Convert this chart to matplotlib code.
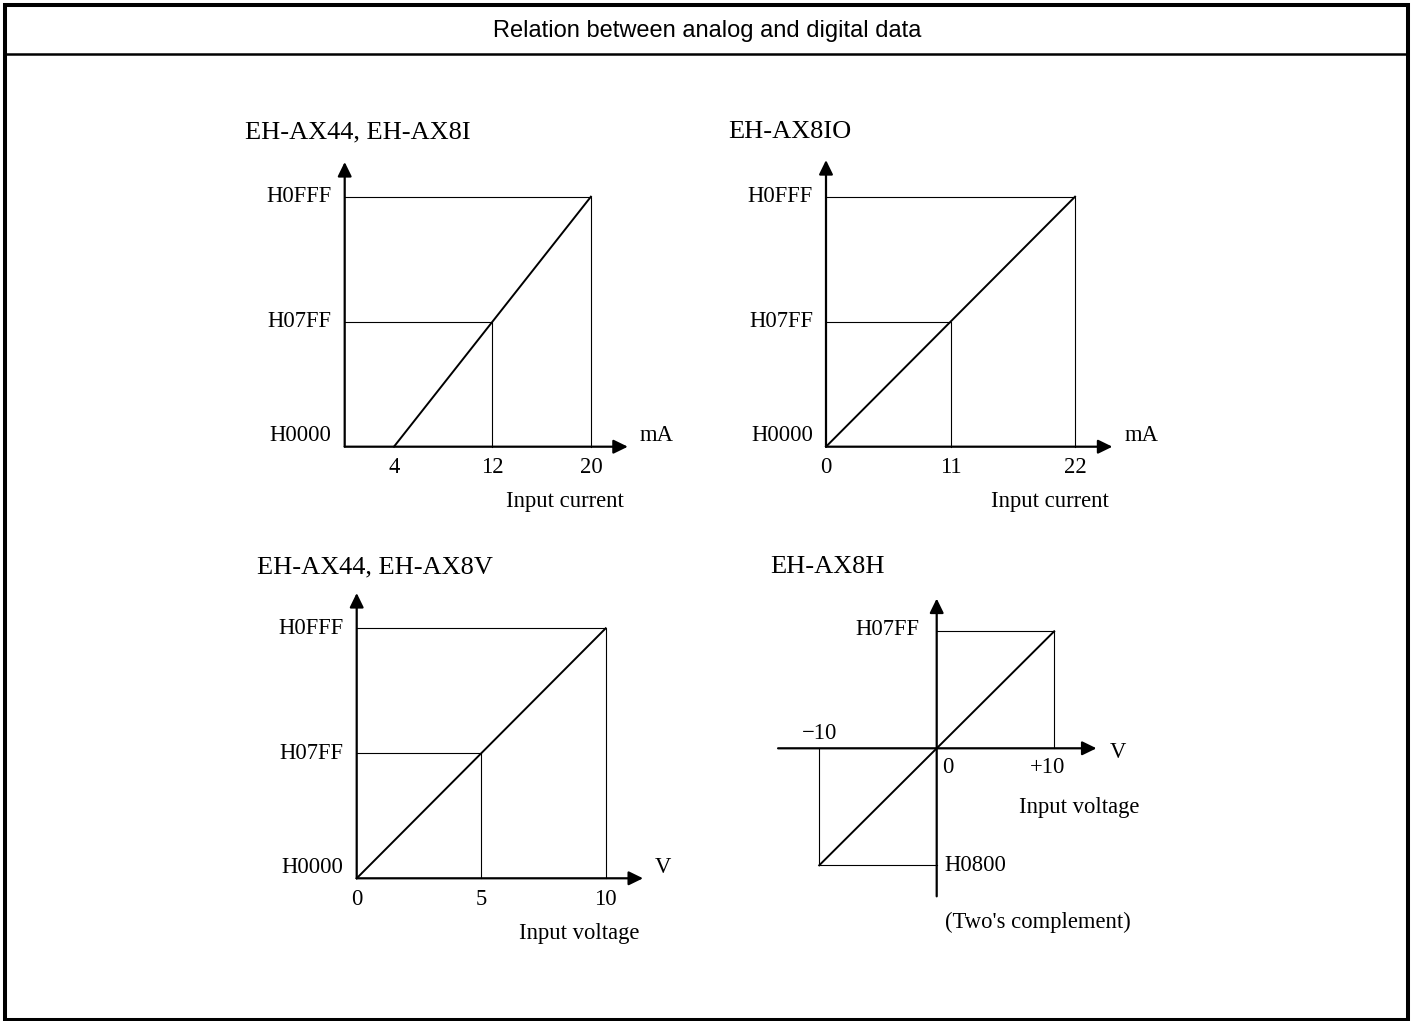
import matplotlib.pyplot as plt
from matplotlib.patches import Rectangle

W, H = 1414, 1021
SERIF = "Liberation Serif"
SANS = "Liberation Sans"
f_s = 16.3
f_t = 19

header = "Relation between analog and digital data"

# EH-AX44, EH-AX8I : current input, 4-20 mA
c1_title = "EH-AX44, EH-AX8I"
c1_x = [4, 12, 20]
c1_y = [0, 2047, 4095]
c1_xlabels = ["4", "12", "20"]
c1_ylabels = ["H0000", "H07FF", "H0FFF"]
c1_unit = "mA"
c1_name = "Input current"

# EH-AX8IO : current input, 0-22 mA
c2_title = "EH-AX8IO"
c2_x = [0, 11, 22]
c2_y = [0, 2047, 4095]
c2_xlabels = ["0", "11", "22"]
c2_ylabels = ["H0000", "H07FF", "H0FFF"]
c2_unit = "mA"
c2_name = "Input current"

# EH-AX44, EH-AX8V : voltage input, 0-10 V
c3_title = "EH-AX44, EH-AX8V"
c3_x = [0, 5, 10]
c3_y = [0, 2047, 4095]
c3_xlabels = ["0", "5", "10"]
c3_ylabels = ["H0000", "H07FF", "H0FFF"]
c3_unit = "V"
c3_name = "Input voltage"

# EH-AX8H : voltage input, -10..+10 V, two's complement
c4_title = "EH-AX8H"
c4_x = [-10, 0, 10]
c4_y = [-2048, 0, 2047]
c4_xlabels = ["\u221210", "0", "+10"]
c4_ylabels = ["H0800", "", "H07FF"]
c4_unit = "V"
c4_name = "Input voltage"
c4_note = "(Two's complement)"


def pt(px):
    return px * 0.72


fig = plt.figure(figsize=(W / 100, H / 100), dpi=100)

# frame and header row
bg = fig.add_axes([0, 0, 1, 1])
bg.set_xlim(0, W)
bg.set_ylim(H, 0)
bg.axis("off")
bg.add_patch(Rectangle((4.5, 5), 1403.5, 1014.5, fill=False, lw=2.9, ec="black"))
bg.plot([4.5, 1408], [54, 54], color="black", lw=1.8)
bg.text(707, 31, header, ha="center", va="center", fontsize=17, family=SANS)


def px_axes(ox, oy, sx, sy, xlim, ylim):
    left = ox + xlim[0] * sx
    right = ox + xlim[1] * sx
    top = oy - ylim[1] * sy
    bottom = oy - ylim[0] * sy
    ax = fig.add_axes([left / W, 1 - bottom / H, (right - left) / W, (bottom - top) / H])
    ax.set_xlim(xlim)
    ax.set_ylim(ylim)
    ax.axis("off")
    return ax


def arrow(ax, start, end):
    ax.annotate("", xy=end, xytext=start, annotation_clip=False,
                arrowprops=dict(arrowstyle="-|>,head_length=0.86,head_width=0.42",
                                mutation_scale=10, lw=1.6, color="black",
                                shrinkA=0, shrinkB=0))


def label(ax, s, xy, dx, dy, ha="center", va="center"):
    ax.annotate(s, xy, xytext=(pt(dx), pt(dy)), textcoords="offset points",
                ha=ha, va=va, fontsize=f_s, family=SERIF, annotation_clip=False)


def unipolar(ax, xs, ys, xlabels, ylabels, unit, name, x_tip, y_tip):
    arrow(ax, (0, 0), (x_tip, 0))
    arrow(ax, (0, 0), (0, y_tip))
    ax.plot([xs[0], xs[-1]], [ys[0], ys[-1]], color="black", lw=1.4)
    for x, y in zip(xs[1:], ys[1:]):
        ax.plot([0, x, x], [y, y, 0], color="black", lw=0.8)
    for y, lbl in zip(ys, ylabels):
        label(ax, lbl, (0, y), -13, 11 if y == 0 else 0, ha="right")
    for x, lbl in zip(xs, xlabels):
        label(ax, lbl, (x, 0), 0, -21)
    label(ax, unit, (x_tip, 0), 12, 11, ha="left")
    label(ax, name, (x_tip, 0), -4, -55, ha="right")


SY = 250 / 4095

ax1 = px_axes(344.7, 446.7, 12.31, SY, (-2, 26), (-500, 5000))
unipolar(ax1, c1_x, c1_y, c1_xlabels, c1_ylabels, c1_unit, c1_name, 23.0, 4663)

ax2 = px_axes(826, 446.7, 11.32, SY, (-2, 28), (-500, 5000))
unipolar(ax2, c2_x, c2_y, c2_xlabels, c2_ylabels, c2_unit, c2_name, 25.3, 4695)

ax3 = px_axes(356.7, 878.3, 24.9, SY, (-1, 13), (-500, 5000))
unipolar(ax3, c3_x, c3_y, c3_xlabels, c3_ylabels, c3_unit, c3_name, 11.5, 4673)

# bipolar chart
ax4 = px_axes(936.7, 748.3, 11.75, 117 / 2047, (-15, 15), (-2800, 2800))
arrow(ax4, (-13.5, 0), (13.6, 0))
arrow(ax4, (0, -2590), (0, 2620))
ax4.plot([c4_x[0], c4_x[-1]], [c4_y[0], c4_y[-1]], color="black", lw=1.4)
for x, y in [(c4_x[0], c4_y[0]), (c4_x[-1], c4_y[-1])]:
    ax4.plot([0, x, x], [y, y, 0], color="black", lw=0.8)
label(ax4, c4_ylabels[2], (0, c4_y[2]), -17, 2, ha="right")
label(ax4, c4_ylabels[0], (0, c4_y[0]), 8, 0, ha="left")
label(ax4, c4_xlabels[0], (c4_x[0], 0), 0, 15)
label(ax4, c4_xlabels[1], (c4_x[1], 0), 11, -19)
label(ax4, c4_xlabels[2], (c4_x[2], 0), -7, -19)
label(ax4, c4_unit, (13.6, 0), 13, -4, ha="left")
label(ax4, c4_name, (13.6, 0), 43, -59, ha="right")
label(ax4, c4_note, (0, c4_y[0]), 8, -57, ha="left")

# chart titles
for x, y, t in [(245, 132, c1_title), (728, 132, c2_title),
                (257, 567, c3_title), (770, 567, c4_title)]:
    bg.text(x, y, t, ha="left", va="center", fontsize=f_t, family=SERIF)

plt.savefig("out.png", dpi=100)
